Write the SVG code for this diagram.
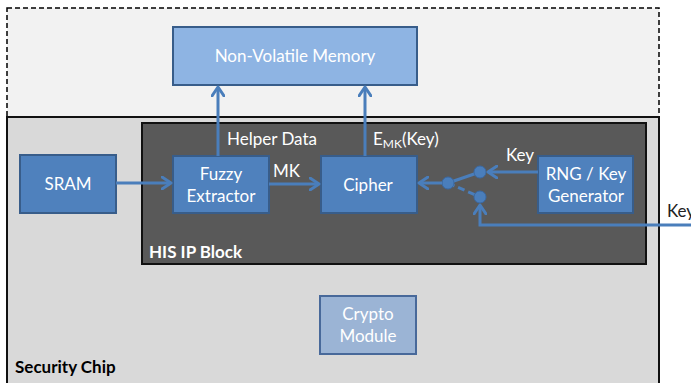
<svg xmlns="http://www.w3.org/2000/svg" width="691" height="383" viewBox="0 0 691 383">
  <style>
    text { font-family: Lato, "Open Sans", "Liberation Sans", sans-serif; }
    .box { fill: #4f81bd; stroke: #385d8a; stroke-width: 2; }
    .nvm { fill: #8eb4e3; stroke: #385d8a; stroke-width: 2; }
    .crypto { fill: #9bb4d5; stroke: #48699a; stroke-width: 2; }
    .lbl { fill: #ffffff; font-size: 17px; text-anchor: middle; }
    .note { fill: #ffffff; font-size: 17px; }
    .wire { fill: none; stroke: #4a7ebb; stroke-width: 3; }
    .dash { fill: none; stroke: #4a7ebb; stroke-width: 3; stroke-dasharray: 7 4; }
    .dot { fill: #4a7ebb; stroke: #3a6aa5; stroke-width: 1; }
  </style>
  <defs>
    <marker id="arrow" viewBox="0 0 12 14" refX="10" refY="7" markerWidth="12" markerHeight="14" markerUnits="userSpaceOnUse" orient="auto">
      <path d="M1,1 L10,7 L1,13" fill="none" stroke="#4a7ebb" stroke-width="3" stroke-linecap="round" stroke-linejoin="round"/>
    </marker>
  </defs>

  <rect width="691" height="383" fill="#ffffff"/>

  <!-- off-chip area -->
  <g id="offchip">
    <rect x="7" y="8" width="652" height="130" fill="#f2f2f2" stroke="#000000" stroke-width="1.5" stroke-dasharray="5 3"/>
  </g>

  <!-- security chip -->
  <g id="security-chip">
    <rect x="7" y="117" width="652" height="280" fill="#d9d9d9" stroke="#111111" stroke-width="2"/>
    <text x="15" y="373" font-size="17" font-weight="bold" fill="#000000">Security Chip</text>
  </g>

  <!-- HIS IP block -->
  <g id="his-ip-block">
    <rect x="142" y="123" width="504" height="141" fill="#595959" stroke="#111111" stroke-width="2"/>
    <text x="149" y="258" font-size="17" font-weight="bold" fill="#ffffff">HIS IP Block</text>
  </g>

  <g id="nvm">
    <rect class="nvm" x="173" y="27" width="244" height="58"/>
    <text class="lbl" x="295" y="62">Non-Volatile Memory</text>
  </g>

  <g id="sram">
    <rect class="box" x="20" y="155" width="96" height="58"/>
    <text class="lbl" x="68" y="190">SRAM</text>
  </g>

  <g id="fuzzy-extractor">
    <rect class="box" x="173" y="156" width="96" height="57"/>
    <text class="lbl" x="221" y="180">Fuzzy</text>
    <text class="lbl" x="221" y="202">Extractor</text>
  </g>

  <g id="cipher">
    <rect class="box" x="321" y="156" width="96" height="57"/>
    <text class="lbl" x="368" y="191">Cipher</text>
  </g>

  <g id="rng">
    <rect class="box" x="538" y="156" width="95" height="57"/>
    <text class="lbl" x="586" y="180">RNG / Key</text>
    <text class="lbl" x="586" y="202">Generator</text>
  </g>

  <g id="crypto-module">
    <rect class="crypto" x="320" y="296" width="96" height="58"/>
    <text class="lbl" x="368" y="320">Crypto</text>
    <text class="lbl" x="368" y="342">Module</text>
  </g>

  <!-- key select switch -->
  <g id="switch">
    <line class="wire" x1="448" y1="183" x2="480" y2="172"/>
    <line class="dash" x1="448" y1="183" x2="480" y2="197"/>
    <circle class="dot" cx="448" cy="183" r="6"/>
    <circle class="dot" cx="480" cy="172" r="6"/>
    <circle class="dot" cx="480" cy="197" r="6"/>
  </g>

  <g id="connectors">
    <line class="wire" x1="116" y1="183" x2="171" y2="183" marker-end="url(#arrow)"/>
    <line class="wire" x1="269" y1="184" x2="319" y2="184" marker-end="url(#arrow)"/>
    <line class="wire" x1="218" y1="156" x2="218" y2="87" marker-end="url(#arrow)"/>
    <line class="wire" x1="365" y1="156" x2="365" y2="87" marker-end="url(#arrow)"/>
    <line class="wire" x1="442" y1="183" x2="419" y2="183" marker-end="url(#arrow)"/>
    <line class="wire" x1="538" y1="172" x2="488" y2="172" marker-end="url(#arrow)"/>
    <polyline class="wire" points="691,225 480,225 480,205" marker-end="url(#arrow)"/>
  </g>

  <g id="labels">
    <text class="note" x="227" y="145">Helper Data</text>
    <text class="note" x="373" y="145">E<tspan font-size="12" dy="3">MK</tspan><tspan dy="-3">(Key)</tspan></text>
    <text class="note" x="273" y="177">MK</text>
    <text class="note" x="506" y="161">Key</text>
    <text x="667" y="217" font-size="17" fill="#222222">Key</text>
  </g>
</svg>
